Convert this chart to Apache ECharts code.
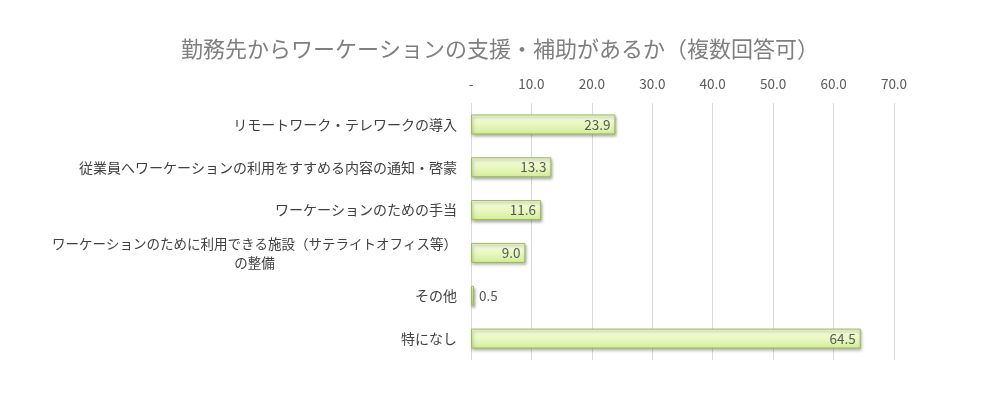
<!DOCTYPE html>
<html>
<head>
<meta charset="utf-8">
<script src="https://cdn.jsdelivr.net/npm/echarts@6/dist/echarts.min.js"></script>
<style>
  html, body { margin: 0; padding: 0; background: #fff; }
  #chart { width: 1000px; height: 411px; }
</style>
</head>
<body>
<div id="chart"></div>
<script>
// 項目（上から順）
var categories = [
  'リモートワーク・テレワークの導入',
  '従業員へワーケーションの利用をすすめる内容の通知・啓蒙',
  'ワーケーションのための手当',
  'ワーケーションのために利用できる施設（サテライトオフィス等）\nの整備',
  'その他',
  '特になし'
];
// 回答率（%）
var values = [23.9, 13.3, 11.6, 9.0, 0.5, 64.5];
var axisMax = 70;
var axisStep = 10;

var chart = echarts.init(document.getElementById('chart'));

var seriesData = values.map(function (v) {
  return {
    value: v,
    label: { position: v < 5 ? 'right' : 'insideRight' }
  };
});

chart.setOption({
  animation: false,
  textStyle: { fontFamily: '"Noto Sans CJK JP", "Noto Sans", sans-serif' },
  title: {
    text: '勤務先からワーケーションの支援・補助があるか（複数回答可）',
    left: 'center',
    top: 33,
    textStyle: { fontSize: 22, fontWeight: 'normal', color: '#7f7f7f' }
  },
  grid: { left: 471, right: 106, top: 103, bottom: 51 },
  xAxis: {
    type: 'value',
    position: 'top',
    min: 0,
    max: axisMax,
    interval: axisStep,
    axisLine: { show: false },
    axisTick: { show: false },
    splitLine: { lineStyle: { color: '#d9d9d9' } },
    axisLabel: {
      margin: 12,
      color: '#595959',
      fontSize: 13.5,
      formatter: function (v) { return v === 0 ? '-' : v.toFixed(1); }
    }
  },
  yAxis: {
    type: 'category',
    inverse: true,
    data: categories,
    axisLine: { show: false },
    axisTick: { show: false },
    axisLabel: {
      margin: 14,
      color: '#404040',
      fontSize: 14,
      lineHeight: 19,
      formatter: function (v) {
        if (v.indexOf('\n') < 0) return v;
        return v.split('\n').map(function (s) { return '{c|' + s + '}'; }).join('\n');
      },
      rich: { c: { align: 'center', fontSize: 13.5, color: '#404040', lineHeight: 19 } }
    }
  },
  series: [{
    type: 'bar',
    data: seriesData,
    barWidth: 20,
    itemStyle: {
      color: new echarts.graphic.LinearGradient(0, 0, 0, 1, [
        { offset: 0, color: '#f6fde2' },
        { offset: 0.5, color: '#e9f8c0' },
        { offset: 1, color: '#d3ec99' }
      ]),
      borderColor: '#9bbb59',
      borderWidth: 1,
      shadowColor: 'rgba(0,0,0,0.35)',
      shadowBlur: 3,
      shadowOffsetX: 1,
      shadowOffsetY: 2
    },
    label: {
      show: true,
      color: '#595959',
      fontSize: 13.5,
      distance: 5,
      formatter: function (p) { return p.value.toFixed(1); }
    }
  }]
});
</script>
</body>
</html>
